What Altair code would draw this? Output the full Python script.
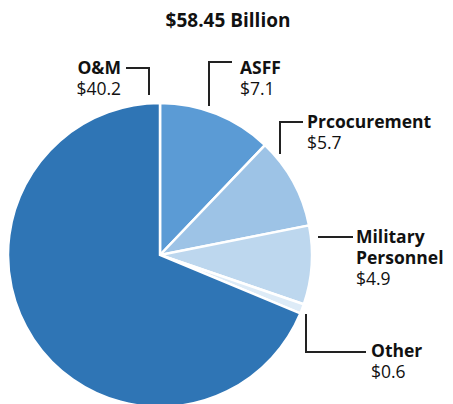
import altair as alt
import pandas as pd

# ---- data ----
title_text = "$58.45 Billion"
categories = ["ASFF", "Prcocurement", "Military Personnel", "Other", "O&M"]
values = [7.1, 5.7, 4.9, 0.6, 40.2]
colors = ["#5b9bd5", "#9dc3e6", "#bdd7ee", "#ddebf7", "#2f75b5"]
name_lines = {"Military Personnel": "Military\nPersonnel"}

# ---- layout (pixels inside the plot area) ----
OFF = 8
W, H = 437, 396
CX, CY, R = 160 - OFF, 255 - OFF, 152
LINE_H = 21
FONT = "Open Sans"
FS = 17.5
# label anchor: x, baseline y of first line, align
label_pos = {
    "O&M": (121, 74, "right"),
    "ASFF": (240, 74, "left"),
    "Prcocurement": (307, 128, "left"),
    "Military Personnel": (356, 243, "left"),
    "Other": (371, 357, "left"),
}
# leader polylines (image pixel coords)
leaders = {
    "O&M": [(127, 68), (149, 68), (149, 94)],
    "ASFF": [(231, 62), (209, 62), (209, 105)],
    "Prcocurement": [(302, 122), (280, 122), (280, 153)],
    "Military Personnel": [(319, 237), (352, 237)],
    "Other": [(306, 315), (306, 352), (365, 352)],
}

df = pd.DataFrame({"category": categories, "value": values, "order": range(len(categories))})

pie = alt.Chart(df).mark_arc(outerRadius=R, stroke="white", strokeWidth=2.5).encode(
    theta=alt.Theta("value:Q", stack=True),
    order=alt.Order("order:Q"),
    color=alt.Color("category:N", scale=alt.Scale(domain=categories, range=colors), legend=None),
    x=alt.value(CX),
    y=alt.value(CY),
)

name_rows, value_rows = [], []
for c, v in zip(categories, values):
    x, y, a = label_pos[c]
    txt = name_lines.get(c, c)
    n = txt.count("\n") + 1
    name_rows.append({"t": txt, "x": x - OFF, "y": y - OFF, "align": a})
    value_rows.append({"t": f"${v:.1f}", "x": x - OFF, "y": y - OFF + n * LINE_H, "align": a})

def text_layer(rows, align, bold):
    d = pd.DataFrame([r for r in rows if r["align"] == align])
    return alt.Chart(d).mark_text(
        align=align, baseline="alphabetic", font=FONT, fontSize=FS,
        fontWeight="bold" if bold else "normal", color="#111111",
        lineBreak="\n", lineHeight=LINE_H,
    ).encode(
        x=alt.X("x:Q", scale=None), y=alt.Y("y:Q", scale=None), text="t:N"
    )

seg_rows = []
for c, pts in leaders.items():
    for (x1, y1), (x2, y2) in zip(pts[:-1], pts[1:]):
        seg_rows.append({"x": x1 - OFF, "y": y1 - OFF, "x2": x2 - OFF, "y2": y2 - OFF})
segs = alt.Chart(pd.DataFrame(seg_rows)).mark_rule(
    color="#222222", strokeWidth=2, strokeCap="square"
).encode(
    x=alt.X("x:Q", scale=None), y=alt.Y("y:Q", scale=None),
    x2="x2:Q", y2="y2:Q",
)

title = alt.Chart(pd.DataFrame({"t": [title_text]})).mark_text(
    align="center", baseline="alphabetic", font=FONT, fontSize=19,
    fontWeight="bold", color="#111111",
).encode(x=alt.value(228 - OFF), y=alt.value(27 - OFF), text="t:N")

chart = alt.layer(
    pie, segs,
    text_layer(name_rows, "left", True), text_layer(name_rows, "right", True),
    text_layer(value_rows, "left", False), text_layer(value_rows, "right", False),
    title,
).properties(
    width=W, height=H, padding=0, autosize=alt.AutoSizeParams(type="none")
).configure_view(stroke=None)

chart.save("out.html", embed_options={"renderer": "svg", "actions": False})
